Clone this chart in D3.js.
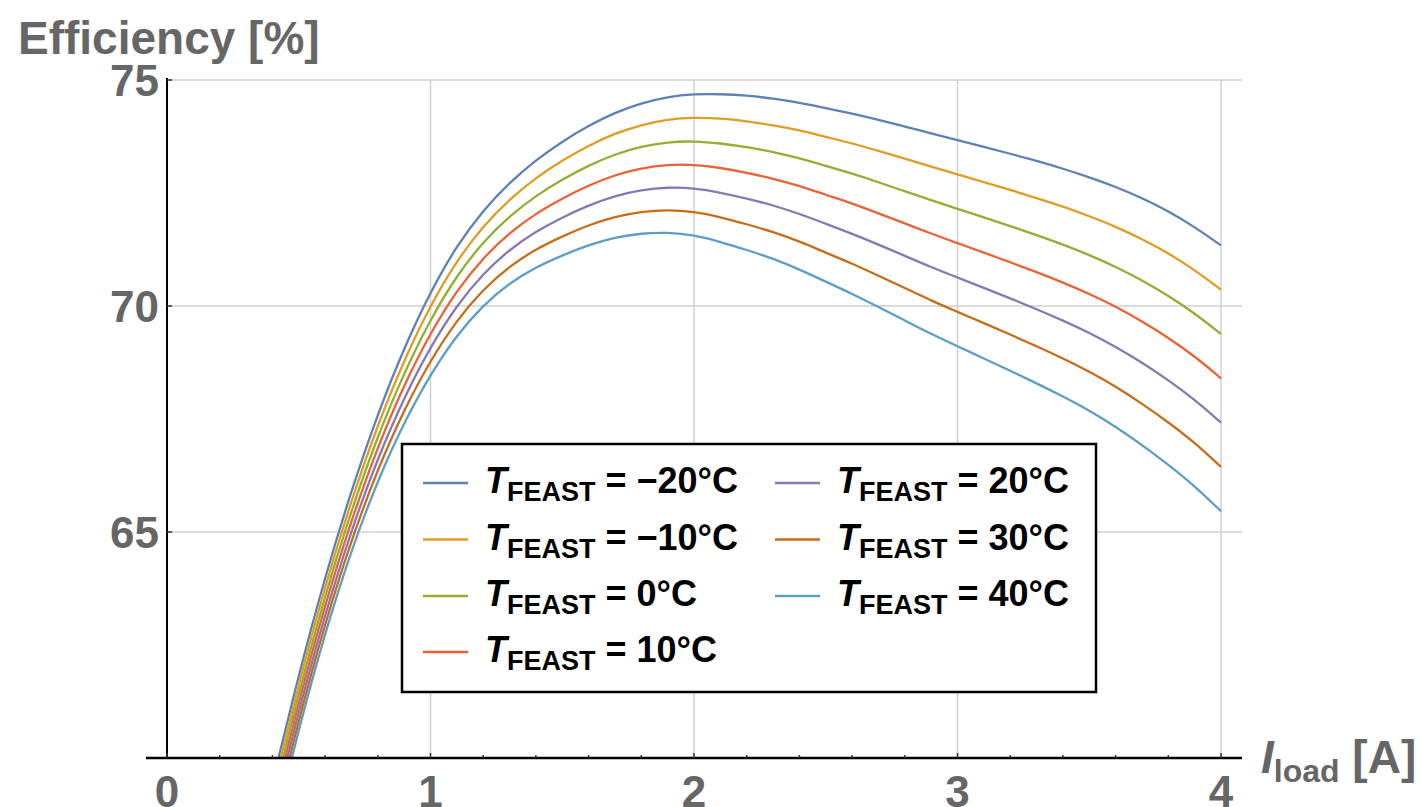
<!DOCTYPE html>
<html>
<head>
<meta charset="utf-8">
<script src="https://cdn.jsdelivr.net/npm/d3@7"></script>
<style>
body { margin: 0; background: #fff; }
text { font-family: "Liberation Sans", Arial, sans-serif; }
</style>
</head>
<body>
<svg width="1422" height="807"></svg>
<script>
// load current [A]
var current = [0.4, 0.5, 0.6, 0.7, 0.8, 0.9, 1.0, 1.1, 1.2, 1.3, 1.4, 1.5, 1.6, 1.7, 1.8, 1.9, 2.0, 2.1, 2.2, 2.3,
    2.4, 2.5, 2.6, 2.7, 2.8, 2.9, 3.0, 3.1, 3.2, 3.3, 3.4, 3.5, 3.6, 3.7, 3.8, 3.9, 4.0];

// efficiency [%] per FEAST temperature
var effM20 = [59.45, 61.85, 64.01, 65.93, 67.62, 69.08, 70.32, 71.34, 72.12, 72.73, 73.23, 73.64, 73.99, 74.28, 74.49, 74.63, 74.69, 74.69, 74.66,
    74.59, 74.50, 74.38, 74.26, 74.12, 73.97, 73.82, 73.67, 73.52, 73.37, 73.21, 73.04, 72.85, 72.64, 72.39, 72.10, 71.75, 71.34];
var effM10 = [59.25, 61.65, 63.81, 65.71, 67.38, 68.81, 70.02, 71.01, 71.77, 72.36, 72.84, 73.22, 73.55, 73.82, 74.01, 74.13, 74.17, 74.15, 74.09,
    74.00, 73.89, 73.74, 73.60, 73.43, 73.26, 73.08, 72.91, 72.74, 72.57, 72.39, 72.20, 71.99, 71.76, 71.48, 71.17, 70.80, 70.36];
var eff0   = [59.05, 61.45, 63.60, 65.49, 67.13, 68.53, 69.71, 70.68, 71.42, 71.99, 72.44, 72.80, 73.11, 73.36, 73.53, 73.63, 73.65, 73.60, 73.52,
    73.41, 73.27, 73.10, 72.93, 72.74, 72.54, 72.34, 72.15, 71.96, 71.77, 71.57, 71.36, 71.13, 70.87, 70.57, 70.23, 69.84, 69.38];
var eff10  = [58.85, 61.25, 63.40, 65.27, 66.89, 68.26, 69.41, 70.35, 71.07, 71.62, 72.05, 72.38, 72.67, 72.90, 73.05, 73.13, 73.13, 73.06, 72.95,
    72.82, 72.66, 72.46, 72.27, 72.05, 71.83, 71.60, 71.39, 71.18, 70.97, 70.75, 70.52, 70.27, 69.99, 69.66, 69.30, 68.89, 68.40];
var eff20  = [58.65, 61.05, 63.19, 65.05, 66.64, 67.98, 69.10, 70.02, 70.72, 71.25, 71.65, 71.96, 72.23, 72.44, 72.57, 72.63, 72.61, 72.51, 72.38,
    72.23, 72.04, 71.82, 71.60, 71.36, 71.11, 70.86, 70.63, 70.40, 70.17, 69.93, 69.68, 69.41, 69.10, 68.75, 68.36, 67.93, 67.42];
var eff30  = [58.45, 60.85, 62.99, 64.83, 66.40, 67.71, 68.80, 69.69, 70.37, 70.88, 71.26, 71.54, 71.79, 71.98, 72.09, 72.13, 72.09, 71.97, 71.81,
    71.64, 71.43, 71.18, 70.94, 70.67, 70.40, 70.12, 69.87, 69.62, 69.37, 69.11, 68.84, 68.55, 68.22, 67.84, 67.43, 66.98, 66.44];
var eff40  = [58.25, 60.65, 62.78, 64.61, 66.15, 67.43, 68.49, 69.36, 70.02, 70.51, 70.86, 71.12, 71.35, 71.52, 71.61, 71.63, 71.57, 71.42, 71.24,
    71.05, 70.81, 70.54, 70.27, 69.98, 69.68, 69.38, 69.11, 68.84, 68.57, 68.29, 68.00, 67.69, 67.33, 66.93, 66.49, 66.02, 65.46];

var temps = ["\u221220", "\u221210", "0", "10", "20", "30", "40"];
var colors = ["#5e81b5", "#e19c24", "#8fb032", "#eb6235", "#8778b3", "#c56e1a", "#5d9ec7"];
var allSeries = [effM20, effM10, eff0, eff10, eff20, eff30, eff40];

var xTicks = [0, 1, 2, 3, 4];
var yTicks = [65, 70, 75];

var svg = d3.select("svg");
var x = d3.scaleLinear().domain([0, 4]).range([167, 1221]);
var y = d3.scaleLinear().domain([60, 75]).range([758, 80]);
var xRight = 1242;

// grid
svg.append("g").selectAll("line")
    .data(yTicks).enter().append("line")
    .attr("x1", x(0)).attr("x2", xRight)
    .attr("y1", function (d) { return y(d); }).attr("y2", function (d) { return y(d); })
    .attr("stroke", "#d0d0d0").attr("stroke-width", 1.5);

svg.append("g").selectAll("line")
    .data(xTicks.slice(1)).enter().append("line")
    .attr("x1", function (d) { return x(d); }).attr("x2", function (d) { return x(d); })
    .attr("y1", y(60)).attr("y2", y(75))
    .attr("stroke", "#d0d0d0").attr("stroke-width", 1.5);

// curves
svg.append("clipPath").attr("id", "plot")
    .append("rect").attr("x", x(0)).attr("y", y(75) - 5)
    .attr("width", xRight - x(0)).attr("height", y(60) - y(75) + 5);

var line = d3.line()
    .x(function (d) { return x(d[0]); })
    .y(function (d) { return y(d[1]); })
    .curve(d3.curveBasis);

svg.append("g").attr("clip-path", "url(#plot)")
    .selectAll("path")
    .data(allSeries).enter().append("path")
    .attr("d", function (s) { return line(d3.zip(current, s)); })
    .attr("fill", "none")
    .attr("stroke", function (d, i) { return colors[i]; })
    .attr("stroke-width", 2.3);

// axes
svg.append("line").attr("x1", x(0)).attr("x2", x(0))
    .attr("y1", y(75) - 2).attr("y2", y(60))
    .attr("stroke", "#000").attr("stroke-width", 2);
svg.append("line").attr("x1", 146).attr("x2", xRight)
    .attr("y1", y(60)).attr("y2", y(60))
    .attr("stroke", "#000").attr("stroke-width", 2.5);

// x ticks (major + minor)
var minor = d3.range(1, 20).map(function (i) { return i / 5; })
    .filter(function (d) { return Math.abs(d - Math.round(d)) > 1e-6; });
svg.append("g").selectAll("line")
    .data(minor).enter().append("line")
    .attr("x1", function (d) { return x(d); }).attr("x2", function (d) { return x(d); })
    .attr("y1", y(60)).attr("y2", y(60) - 3)
    .attr("stroke", "#333").attr("stroke-width", 1.5);
svg.append("g").selectAll("line")
    .data(xTicks).enter().append("line")
    .attr("x1", function (d) { return x(d); }).attr("x2", function (d) { return x(d); })
    .attr("y1", y(60)).attr("y2", y(60) - 5)
    .attr("stroke", "#333").attr("stroke-width", 1.5);
svg.append("g").selectAll("line")
    .data(yTicks).enter().append("line")
    .attr("x1", x(0)).attr("x2", x(0) + 5)
    .attr("y1", function (d) { return y(d); }).attr("y2", function (d) { return y(d); })
    .attr("stroke", "#333").attr("stroke-width", 1.5);

// tick labels
svg.append("g").selectAll("text")
    .data(xTicks).enter().append("text")
    .attr("x", function (d) { return x(d); }).attr("y", 807)
    .attr("text-anchor", "middle")
    .attr("font-size", 44).attr("font-weight", "bold").attr("fill", "#666")
    .text(function (d) { return d; });
svg.append("g").selectAll("text")
    .data(yTicks).enter().append("text")
    .attr("x", 159).attr("y", function (d) { return y(d) + 16; })
    .attr("text-anchor", "end")
    .attr("font-size", 44).attr("font-weight", "bold").attr("fill", "#666")
    .text(function (d) { return d; });

// axis titles
svg.append("text").attr("x", 18).attr("y", 54)
    .attr("font-size", 46).attr("font-weight", "bold").attr("fill", "#666")
    .text("Efficiency [%]");

var xl = svg.append("text").attr("x", 1261).attr("y", 773)
    .attr("font-size", 46).attr("font-weight", "bold").attr("fill", "#666");
xl.append("tspan").attr("font-style", "italic").text("I");
xl.append("tspan").attr("font-size", 32).attr("dy", 9).text("load");
xl.append("tspan").attr("dy", -9).text(" [A]");

// legend
var lg = svg.append("g");
lg.append("rect").attr("x", 402).attr("y", 444).attr("width", 694).attr("height", 248)
    .attr("fill", "#fff").attr("stroke", "#000").attr("stroke-width", 2.5);

var rowY = [483, 539.5, 596, 652];
var entries = lg.selectAll("g.entry")
    .data(temps).enter().append("g").attr("class", "entry")
    .attr("transform", function (d, i) {
        var col = i < 4 ? 0 : 1;
        var row = i < 4 ? i : i - 4;
        return "translate(" + (col === 0 ? 423 : 775) + "," + rowY[row] + ")";
    });
entries.append("line").attr("x1", 0).attr("x2", 45).attr("y1", 0).attr("y2", 0)
    .attr("stroke", function (d, i) { return colors[i]; }).attr("stroke-width", 2.5);
var lt = entries.append("text").attr("x", 62).attr("y", 10)
    .attr("font-size", 36).attr("font-weight", "bold").attr("fill", "#000");
lt.append("tspan").attr("font-style", "italic").text("T");
lt.append("tspan").attr("font-size", 27).attr("dy", 8).text("FEAST");
lt.append("tspan").attr("dy", -8).text(function (d) { return " = " + d + "\u00b0C"; });
</script>
</body>
</html>
